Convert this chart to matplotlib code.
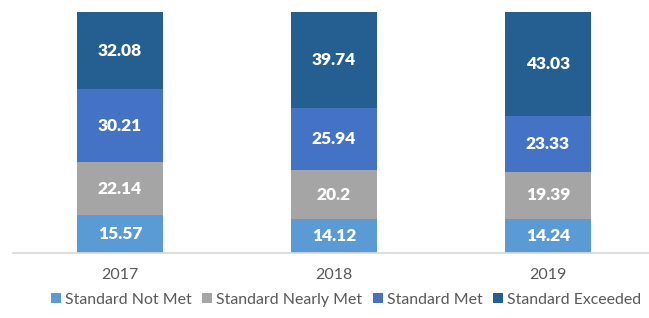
import matplotlib.pyplot as plt
import numpy as np

years = ["2017", "2018", "2019"]
series = ["Standard Not Met", "Standard Nearly Met", "Standard Met", "Standard Exceeded"]
not_met = [15.57, 14.12, 14.24]
nearly_met = [22.14, 20.2, 19.39]
met = [30.21, 25.94, 23.33]
exceeded = [32.08, 39.74, 43.03]
colors = ["#5B9BD5", "#A5A5A5", "#4472C4", "#255E91"]

plt.rcParams['font.family'] = ['Lato', 'DejaVu Sans']

fig = plt.figure(figsize=(6.49, 3.18), dpi=100)
W, H = 649, 318
ax = fig.add_axes([13 / W, 1 - 253 / H, 642 / W, 241 / H])

x = np.arange(len(years))
bottom = np.zeros(len(years))
for name, vals, c in zip(series, [not_met, nearly_met, met, exceeded], colors):
    ax.bar(x, vals, 0.40, bottom=bottom, color=c, label=name)
    for xi, b, v in zip(x, bottom, vals):
        ax.text(xi, b + v / 2, f"{v:g}", ha='center', va='center',
                color='white', fontsize=12.5, fontweight='heavy')
    bottom += np.array(vals)

ax.set_xlim(-0.5, 2.5)
ax.set_ylim(0, 100)
for s in ['top', 'left', 'right']:
    ax.spines[s].set_visible(False)
ax.spines['bottom'].set_color('#D9D9D9')
ax.spines['bottom'].set_linewidth(1.2)
ax.set_yticks([])
ax.set_xticks(x)
ax.set_xticklabels(years, color='#595959', fontsize=11.5)
ax.tick_params(axis='x', length=0, pad=11)

fig.legend(loc='center', bbox_to_anchor=(346 / W, 1 - 300 / H), ncol=4,
           frameon=False, fontsize=11.4, labelcolor='#595959',
           handlelength=0.6, handleheight=0.6, handletextpad=0.25,
           columnspacing=0.7, borderpad=0.2)

fig.savefig('out.png', dpi=100)
